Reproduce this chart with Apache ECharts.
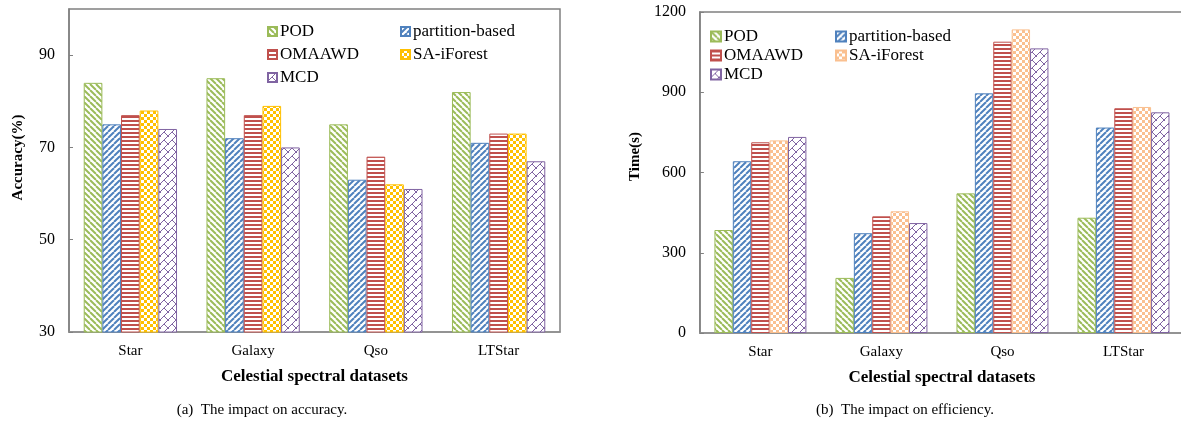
<!DOCTYPE html>
<html>
<head>
<meta charset="utf-8">
<script src="https://cdn.jsdelivr.net/npm/echarts@6/dist/echarts.min.js"></script>
<style>
html,body{margin:0;padding:0;background:#fff;}
#wrap{position:relative;width:1181px;height:423px;overflow:hidden;}
#c1{position:absolute;left:0;top:0;width:620px;height:423px;}
#c2{position:absolute;left:620px;top:0;width:640px;height:423px;}
</style>
</head>
<body>
<div id="wrap"><div id="c1"></div><div id="c2"></div></div>
<script>
// ---- data ----
const categories = ['Star', 'Galaxy', 'Qso', 'LTStar'];
const seriesNames = ['POD', 'partition-based', 'OMAAWD', 'SA-iForest', 'MCD'];
const accPOD = [84, 85, 75, 82];
const accPartition = [75, 72, 63, 71];
const accOMAAWD = [77, 77, 68, 73];
const accSAiForest = [78, 79, 62, 73];
const accMCD = [74, 70, 61, 67];
const timePOD = [385, 206, 522, 431];
const timePartition = [642, 373, 896, 768];
const timeOMAAWD = [713, 436, 1089, 840];
const timeSAiForest = [720, 455, 1135, 845];
const timeMCD = [733, 411, 1064, 825];
const xTitle = 'Celestial spectral datasets';
const accTitle = 'Accuracy(%)';
const timeTitle = 'Time(s)';
const captionA = '(a)  The impact on accuracy.';
const captionB = '(b)  The impact on efficiency.';

// ---- patterns ----
const FONT = '"Liberation Serif", "Times New Roman", serif';
function tile(w, h, draw) {
  const c = document.createElement('canvas');
  c.width = w; c.height = h;
  const g = c.getContext('2d');
  g.fillStyle = '#fff'; g.fillRect(0, 0, w, h);
  draw(g, w, h);
  return { image: c, repeat: 'repeat' };
}
function diagDown(col) { // \\\
  return tile(6, 6, (g, w, h) => {
    g.strokeStyle = col; g.lineWidth = 2;
    for (let k = -1; k <= 1; k++) { g.beginPath(); g.moveTo(k * w, 0); g.lineTo(k * w + w, h); g.stroke(); }
  });
}
function diagUp(col) { // ///
  return tile(6, 6, (g, w, h) => {
    g.strokeStyle = col; g.lineWidth = 2;
    for (let k = -1; k <= 1; k++) { g.beginPath(); g.moveTo(k * w, h); g.lineTo(k * w + w, 0); g.stroke(); }
  });
}
function horiz(col) {
  return tile(4, 4, (g) => { g.fillStyle = col; g.fillRect(0, 0, 4, 2); });
}
function checker(col) {
  return tile(6, 6, (g) => { g.fillStyle = col; g.fillRect(0, 0, 3, 3); g.fillRect(3, 3, 3, 3); });
}
function brick(col) {
  return tile(8, 8, (g) => {
    g.strokeStyle = col; g.lineWidth = 1;
    g.beginPath(); g.moveTo(-1, 9); g.lineTo(9, -1); g.stroke();
    g.beginPath(); g.moveTo(4, 4); g.lineTo(9, 9); g.stroke();
    g.beginPath(); g.moveTo(-4, -4); g.lineTo(1, 1); g.stroke();
  });
}
const GREEN = '#9BBB59', BLUE = '#4F81BD', RED = '#C0504D', GOLD = '#FFC000', PEACH = '#FAC090', PURPLE = '#8064A2';

function makeSeries(values, saColor) {
  const defs = [
    [GREEN, diagDown(GREEN)],
    [BLUE, diagUp(BLUE)],
    [RED, horiz(RED)],
    [saColor, checker(saColor)],
    [PURPLE, brick(PURPLE)]
  ];
  return seriesNames.map((n, i) => ({
    name: n, type: 'bar', data: values[i],
    barGap: '0%', barCategoryGap: '24%',
    itemStyle: { color: defs[i][1], borderColor: defs[i][0], borderWidth: 1 },
    emphasis: { disabled: true }
  }));
}

function legends(left1, left2, top, gap, size) {
  const base = {
    orient: 'vertical', top: top, itemWidth: size, itemHeight: size, itemGap: gap, icon: 'rect', padding: 0,
    textStyle: { fontFamily: FONT, fontSize: 17, color: '#000', padding: [0, 0, 0, -2] }, selectedMode: false
  };
  return [
    Object.assign({}, base, { left: left1, data: ['POD', 'OMAAWD', 'MCD'] }),
    Object.assign({}, base, { left: left2, data: ['partition-based', 'SA-iForest'] })
  ];
}

function buildOption(o) {
  return {
    animation: false,
    legend: legends(o.lg1, o.lg2, o.lgTop, o.lgGap, o.lgSize),
    grid: { left: o.left, top: o.top, width: o.width, height: o.height, show: true, borderColor: '#808080', borderWidth: 1.5, backgroundColor: 'transparent' },
    xAxis: {
      type: 'category', data: categories,
      axisLine: { lineStyle: { color: '#909090', width: 1.5 } },
      axisTick: { inside: true, length: 4, lineStyle: { color: '#909090' } },
      axisLabel: { fontFamily: FONT, fontSize: 15, color: '#000', margin: 12 },
      name: xTitle, nameLocation: 'middle', nameGap: 36,
      nameTextStyle: { fontFamily: FONT, fontSize: 17, fontWeight: 'bold', color: '#000' }
    },
    yAxis: {
      type: 'value', min: o.min, max: o.max, interval: o.interval,
      splitLine: { show: false },
      axisLine: { show: true, lineStyle: { color: '#808080', width: 1.5 } },
      axisTick: { show: true, inside: true, length: 4, lineStyle: { color: '#808080' } },
      axisLabel: { fontFamily: FONT, fontSize: 16, color: '#000', margin: 14, showMaxLabel: o.showMax, formatter: v => String(v) },
      name: o.yName, nameLocation: 'middle', nameGap: o.nameGap,
      nameTextStyle: { fontFamily: FONT, fontSize: 15, fontWeight: 'bold', color: '#000', padding: [0, 0, 0, o.namePad] }
    },
    graphic: [{
      type: 'text', x: o.capX, y: 410,
      style: { text: o.caption, fontFamily: FONT, fontSize: 15, fill: '#000', align: 'center', verticalAlign: 'middle' }
    }],
    series: makeSeries(o.values, o.sa)
  };
}

const c1 = echarts.init(document.getElementById('c1'), null, { renderer: 'canvas' });
c1.setOption(buildOption({
  left: 69, top: 9, width: 491, height: 323,
  min: 30, max: 100, interval: 20, showMax: false,
  yName: accTitle, nameGap: 43, namePad: 26,
  values: [accPOD, accPartition, accOMAAWD, accSAiForest, accMCD], sa: GOLD,
  lg1: 267, lg2: 400, lgTop: 23, lgGap: 6, lgSize: 9,
  caption: captionA, capX: 262
}));
const c2 = echarts.init(document.getElementById('c2'), null, { renderer: 'canvas' });
c2.setOption(buildOption({
  left: 74, top: 12, width: 490, height: 321,
  min: 0, max: 1200, interval: 300, showMax: true,
  yName: timeTitle, nameGap: 47, namePad: 32,
  values: [timePOD, timePartition, timeOMAAWD, timeSAiForest, timeMCD], sa: PEACH,
  lg1: 90, lg2: 215, lgTop: 28, lgGap: 2, lgSize: 10,
  caption: captionB, capX: 285
}));
</script>
</body>
</html>
